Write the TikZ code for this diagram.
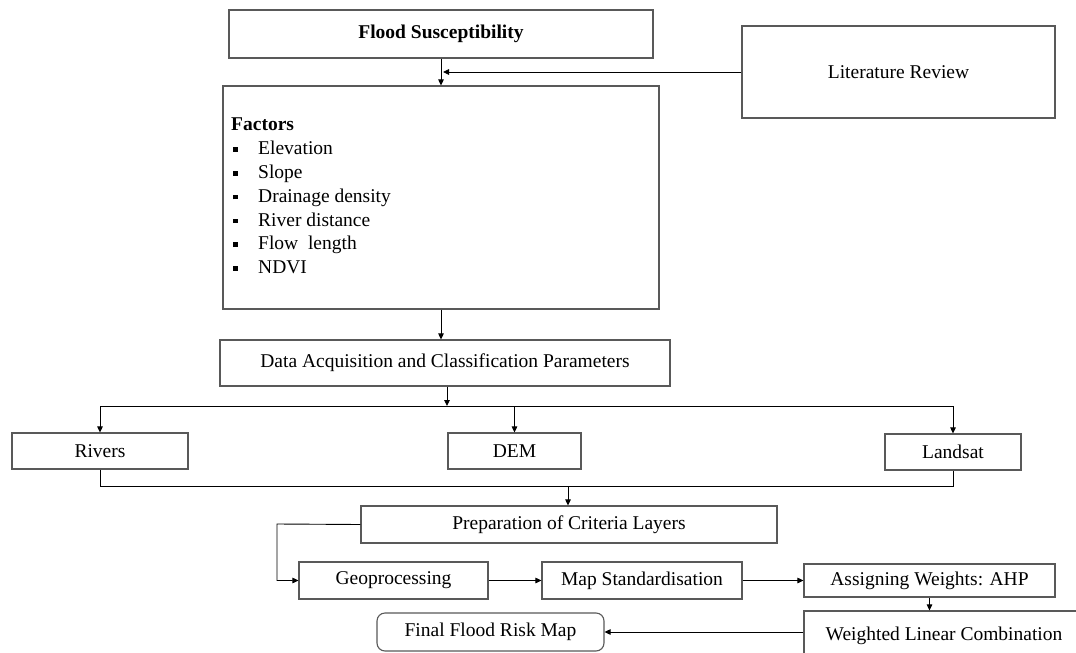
\documentclass[tikz,border=0pt]{standalone}
\usepackage{fontspec}
\setmainfont{Liberation Serif}
\usetikzlibrary{arrows.meta}
\newcommand\fbul{\hspace*{2pt}\rule[3pt]{4.5pt}{4.5pt}\hspace{20.5pt}}
\begin{document}
\begin{tikzpicture}[x=1pt,y=-1pt,
  every node/.style={font=\fontsize{19.5}{23.8}\selectfont},
  box/.style={draw=black!65, line width=1.1pt, rectangle, inner sep=0pt, fill=white},
  arr/.style={draw=black, line width=0.9pt, -{Triangle[length=6pt,width=5.5pt]}},
  ln/.style={draw=black, line width=0.9pt}]
\useasboundingbox (0,0) rectangle (1076,653);
\clip (0,0) rectangle (1076,653);
\fill[white] (0,0) rectangle (1076,653);

% boxes
\node[box, minimum width=424pt, minimum height=48pt] (flood) at (441,34) {\textbf{Flood Susceptibility}};
\node[box, minimum width=313pt, minimum height=92pt] (lit) at (898.5,72) {Literature Review};
\node[box, minimum width=436pt, minimum height=223pt] (fac) at (441,197.5) {};
\node[anchor=north west, inner sep=0pt, align=left] (factxt) at (231,118) {\textbf{Factors}\\
  \fbul Elevation\\
  \fbul Slope\\
  \fbul Drainage density\\
  \fbul River distance\\
  \fbul Flow~~length\\
  \fbul NDVI};
\node[box, minimum width=450pt, minimum height=46pt] (data) at (445,363) {Data Acquisition and Classification Parameters};
\node[box, minimum width=176pt, minimum height=36pt] (rivers) at (100,451) {Rivers};
\node[box, minimum width=133pt, minimum height=36pt] (dem) at (514.5,451) {DEM};
\node[box, minimum width=136pt, minimum height=36pt] (landsat) at (953,452) {Landsat};
\node[box, minimum width=416pt, minimum height=37pt] (prep) at (569,524.5) {Preparation of Criteria Layers};
\node[box, minimum width=189pt, minimum height=37pt] (geo) at (393.5,580.5) {Geoprocessing};
\node[box, minimum width=200pt, minimum height=37pt] (map) at (642,580.5) {Map Standardisation};
\node[box, minimum width=251pt, minimum height=33pt] (ahp) at (929.5,580.5) {Assigning Weights: AHP};
\node[box, minimum width=280pt, minimum height=49pt] (wlc) at (944,635.5) {Weighted Linear Combination};
\node[box, rounded corners=8pt, minimum width=227pt, minimum height=38pt] (final) at (490.5,632) {Final Flood Risk Map};

% coordinates
\coordinate (litj) at (443,72);
\coordinate (b1) at (447,406);
\coordinate (m1) at (568,486);
\coordinate (g1) at (277,524);

% connectors
\draw[arr] (flood.south) -- (fac.north);
\draw[arr] (lit.west) -- (litj);
\draw[arr] (fac.south) -- (data.north -| fac.south);
\draw[arr] (data.south -| b1) -- (b1);
\draw[ln] (rivers.north |- b1) -- (landsat.north |- b1);
\draw[arr] (rivers.north |- b1) -- (rivers.north);
\draw[arr] (dem.north |- b1) -- (dem.north);
\draw[arr] (landsat.north |- b1) -- (landsat.north);
\draw[ln] (rivers.south) -- (rivers.south |- m1) -- (landsat.south |- m1) -- (landsat.south);
\draw[arr] (m1) -- (prep.north -| m1);
\draw[arr] (prep.west) -- (g1) -- (g1 |- geo.west) -- (geo.west);
\draw[arr] (geo.east) -- (map.west);
\draw[arr] (map.east) -- (ahp.west);
\draw[arr] (ahp.south) -- (ahp.south |- wlc.north);
\draw[arr] (wlc.west |- final.east) -- (final.east);
\end{tikzpicture}
\end{document}
